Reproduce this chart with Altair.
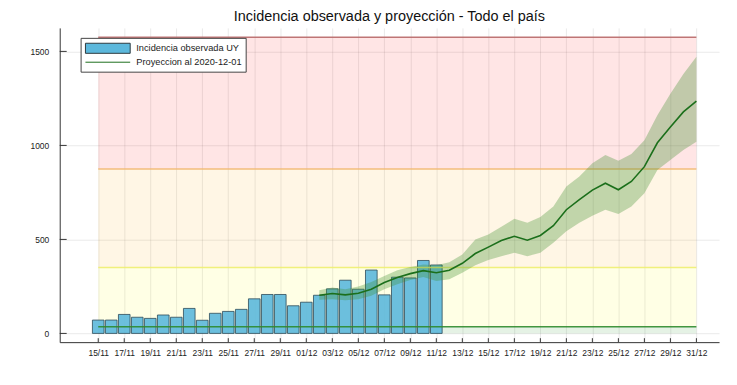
import altair as alt
import pandas as pd
from datetime import datetime, timezone, timedelta

FONT = "'Liberation Sans', Arial, sans-serif"

# ---- data -------------------------------------------------------------
obs_dates = [
    "2020-11-15", "2020-11-16", "2020-11-17", "2020-11-18", "2020-11-19",
    "2020-11-20", "2020-11-21", "2020-11-22", "2020-11-23", "2020-11-24",
    "2020-11-25", "2020-11-26", "2020-11-27", "2020-11-28", "2020-11-29",
    "2020-11-30", "2020-12-01", "2020-12-02", "2020-12-03", "2020-12-04",
    "2020-12-05", "2020-12-06", "2020-12-07", "2020-12-08", "2020-12-09",
    "2020-12-10", "2020-12-11",
]
obs_values = [71, 71, 101, 86, 80, 98, 86, 133, 70, 107, 117, 128, 184, 207,
              207, 147, 166, 203, 237, 283, 235, 337, 205, 299, 295, 388, 364]

proj_dates = [
    "2020-12-02", "2020-12-03", "2020-12-04", "2020-12-05", "2020-12-06",
    "2020-12-07", "2020-12-08", "2020-12-09", "2020-12-10", "2020-12-11",
    "2020-12-12", "2020-12-13", "2020-12-14", "2020-12-15", "2020-12-16",
    "2020-12-17", "2020-12-18", "2020-12-19", "2020-12-20", "2020-12-21",
    "2020-12-22", "2020-12-23", "2020-12-24", "2020-12-25", "2020-12-26",
    "2020-12-27", "2020-12-28", "2020-12-29", "2020-12-30", "2020-12-31",
]
proj_mid = [203, 212, 205, 214, 235, 271, 297, 318, 334, 323, 336, 373, 425,
            459, 494, 517, 496, 521, 573, 658, 711, 762, 799, 764, 808, 887,
            1014, 1098, 1178, 1236]
proj_low = [179, 182, 177, 182, 200, 235, 262, 284, 300, 279, 288, 323, 362,
            390, 411, 429, 411, 429, 482, 543, 588, 626, 658, 635, 675, 746,
            869, 922, 975, 1019]
proj_high = [230, 244, 235, 249, 274, 305, 336, 353, 367, 362, 379, 420, 499,
             526, 567, 610, 588, 619, 675, 781, 834, 905, 949, 919, 954, 1028,
             1160, 1275, 1380, 1472]

band_names = ["verde", "amarillo", "naranja", "rojo"]
band_low = [0, 35, 350, 875]
band_high = [35, 350, 875, 1575]
band_fill = ["#008000", "#ffff00", "#ffa500", "#ff0000"]
band_line = ["#2e8b2e", "#eeee70", "#f2b870", "#b86868"]
band_start = "2020-11-15"
band_end = "2020-12-31"

tick_dates = [
    "2020-11-15", "2020-11-17", "2020-11-19", "2020-11-21", "2020-11-23",
    "2020-11-25", "2020-11-27", "2020-11-29", "2020-12-01", "2020-12-03",
    "2020-12-05", "2020-12-07", "2020-12-09", "2020-12-11", "2020-12-13",
    "2020-12-15", "2020-12-17", "2020-12-19", "2020-12-21", "2020-12-23",
    "2020-12-25", "2020-12-27", "2020-12-29", "2020-12-31",
]
y_ticks = [0, 500, 1000, 1500]

label_obs = "Incidencia observada UY"
label_proj = "Proyeccion al 2020-12-01"
title_text = "Incidencia observada y proyección - Todo el país"

bar_color = "#5cb8dc"
line_color = "#1b6f1b"

# ---- tables -----------------------------------------------------------
obs_df = pd.DataFrame({"date": obs_dates, "value": obs_values, "serie_bar": label_obs})
proj_df = pd.DataFrame({"date": proj_dates, "mid": proj_mid, "low": proj_low,
                        "high": proj_high, "serie_line": label_proj})
band_df = pd.DataFrame({"name": band_names, "low": band_low, "high": band_high,
                        "fill": band_fill, "line": band_line,
                        "date": band_start, "end": band_end})
tick_df = pd.DataFrame({"date": tick_dates})
ytick_df = pd.DataFrame({"value": y_ticks})

W, H = 663, 316
base = datetime(2020, 11, 15, tzinfo=timezone.utc)
x_dom = [
    (base - timedelta(days=2.58)).timestamp() * 1000,
    (base + timedelta(days=47.36)).timestamp() * 1000,
]
x_vals = [datetime(int(d[:4]), int(d[5:7]), int(d[8:]), tzinfo=timezone.utc).timestamp() * 1000
          for d in tick_dates]

x_scale = alt.Scale(type="utc", domain=x_dom, nice=False)
y_scale = alt.Scale(domain=[-46.5, 1625], nice=False, zero=False)

x_axis = alt.Axis(values=x_vals, format="%d/%m", title=None, ticks=False,
                  labelPadding=6, grid=True, labelFontSize=8.5, labelFont=FONT,
                  labelColor="#222", domainColor="#333", gridColor="#000",
                  gridOpacity=0.09, labelFlush=False, labelOverlap=False)
y_axis = alt.Axis(values=y_ticks, format="d", title=None, ticks=False, labelPadding=11,
                  grid=True, labelFontSize=8.5, labelFont=FONT, labelColor="#222",
                  domainColor="#333", gridColor="#000", gridOpacity=0.09,
                  labelOverlap=False)

X = alt.X("date:T", scale=x_scale, axis=x_axis)


def Y(field):
    return alt.Y(field, scale=y_scale, axis=y_axis)


bands = alt.Chart(band_df).mark_rect(opacity=0.1).encode(
    x=X, x2="end:T", y=Y("low:Q"), y2="high:Q",
    color=alt.Color("fill:N", scale=None),
)

band_lines = alt.Chart(band_df).mark_rule(strokeWidth=1.5, opacity=0.9).encode(
    x=X, x2="end:T", y=Y("high:Q"),
    color=alt.Color("line:N", scale=None),
)

SYM_SIZE = 126.6  # sqrt = 11.25 -> path unit r = 5.625
bars = alt.Chart(obs_df).mark_bar(size=11.7, stroke="#2d4a58", strokeWidth=0.8,
                                  fillOpacity=0.9).encode(
    x=X,
    y=Y("value:Q"),
    fill=alt.Fill("serie_bar:N",
                  scale=alt.Scale(domain=[label_obs], range=[bar_color]),
                  legend=alt.Legend(title=None, orient="none", legendX=25, legendY=14,
                                    symbolType="M-1,-0.9H7V0.9H-1Z", symbolSize=SYM_SIZE,
                                    symbolStrokeColor="#2d3a40", symbolStrokeWidth=1,
                                    symbolFillColor=bar_color, symbolOpacity=1,
                                    labelFont=FONT, labelFontSize=9.3, labelOpacity=0,
                                    labelOffset=39, padding=0, rowPadding=2, zindex=3)),
)

ribbon = alt.Chart(proj_df).mark_area(color="#3f8f2f", opacity=0.32).encode(
    x=X, y=Y("low:Q"), y2="high:Q",
)

line = alt.Chart(proj_df).mark_line(strokeWidth=1.6).encode(
    x=X, y=Y("mid:Q"),
    stroke=alt.Stroke("serie_line:N",
                      scale=alt.Scale(domain=[label_obs, label_proj],
                                      range=[bar_color, line_color]),
                      legend=alt.Legend(title=None, orient="none", legendX=21, legendY=10,
                                        symbolType="M-1,0H7", symbolSize=SYM_SIZE,
                                        symbolStrokeWidth=1,
                                        labelFont=FONT, labelFontSize=9.3,
                                        labelColor="#222", labelOffset=39,
                                        padding=4, rowPadding=2, fillColor="white",
                                        strokeColor="#444", zindex=1)),
)

xticks = alt.Chart(tick_df).mark_rule(color="#333").encode(
    x=X, y=alt.value(H), y2=alt.value(H - 4))
yticks = alt.Chart(ytick_df).mark_rule(color="#333").encode(
    y=Y("value:Q"), x=alt.value(0), x2=alt.value(7))

chart = alt.layer(bands, bars, band_lines, ribbon, line, xticks, yticks).resolve_legend(
    fill="independent", stroke="independent"
).properties(
    width=W, height=H,
    autosize=alt.AutoSizeParams(type="none"),
    padding={"left": 52, "top": 19, "right": 10, "bottom": 30},
    title=alt.TitleParams(title_text, font=FONT, fontSize=14.5, fontWeight="normal",
                          color="#111", anchor="middle", offset=3),
).configure_view(stroke=None)

chart.save("out.html", embed_options={"renderer": "svg", "actions": False})
